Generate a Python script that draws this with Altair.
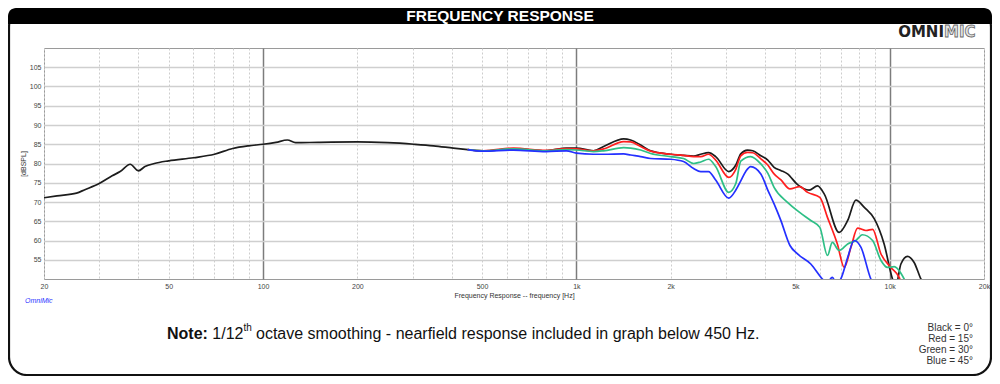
import altair as alt
import pandas as pd

# ---------------- data ----------------
black_f = [20, 22, 25.4, 27, 30, 33, 35, 37.7, 40, 42, 45, 50, 60, 70, 80, 90, 100, 110,
           119.6, 127, 150, 200, 250, 303, 350, 405, 450, 505, 630, 800, 930, 1000, 1135,
           1222, 1416, 1490, 1604, 1726, 2000, 2198, 2368, 2494, 2642, 2784, 3064, 3228,
           3348, 3516, 3656, 3880, 4083, 4276, 4490, 4720, 5082, 5534, 5886, 6180, 6900,
           7345, 7800, 8300, 8935, 9600, 10210, 10450, 10860, 11400, 11970, 12580, 13000]
black_db = [71.1, 71.6, 72.3, 73.2, 74.8, 76.8, 77.9, 79.8, 78.1, 79.2, 80.0, 80.7, 81.5,
            82.4, 83.9, 84.6, 85.0, 85.5, 86.1, 85.4, 85.5, 85.6, 85.4, 85.0, 84.6, 84.0,
            83.6, 83.2, 83.8, 83.3, 84.0, 84.0, 83.3, 84.4, 86.4, 86.1, 84.8, 83.3, 82.4,
            82.1, 81.9, 82.4, 82.8, 81.8, 77.9, 79.6, 82.5, 83.5, 83.3, 82.0, 80.9, 79.0,
            78.2, 77.3, 74.5, 73.1, 74.2, 72.1, 62.1, 65.2, 70.5, 68.6, 65.6, 59.1, 50.0,
            48.0, 53.9, 55.9, 54.3, 50.0, 48.0]

red_f = [450, 505, 630, 800, 930, 1000, 1135, 1222, 1416, 1490, 1604, 1726, 2000, 2198,
         2368, 2494, 2642, 2784, 3064, 3228, 3348, 3516, 3656, 3880, 4083, 4276, 4490, 4806,
         5160, 5472, 5985, 6330, 6808, 7160, 7520, 7900, 8400, 8820, 9380, 10090, 10720, 11000]
red_db = [83.6, 83.3, 84.0, 83.4, 83.9, 83.8, 83.3, 83.8, 85.7, 85.6, 84.4, 83.2, 82.4,
          82.1, 81.8, 81.8, 82.4, 80.9, 76.4, 78.5, 82.0, 82.9, 82.8, 81.2, 79.6, 77.3,
          75.8, 73.4, 74.0, 72.5, 71.2, 66.0, 59.1, 53.0, 58.2, 63.2, 62.6, 62.9, 56.5,
          53.0, 50.4, 48.0]

green_f = [450, 505, 630, 800, 930, 1000, 1135, 1222, 1416, 1490, 1604, 1726, 2000, 2198,
           2368, 2494, 2642, 2784, 3064, 3228, 3348, 3600, 3880, 4083, 4276, 4720, 5160,
           5600, 5985, 6330, 6560, 6900, 7345, 7800, 8180, 8820, 9380, 9840, 10340, 10860,
           11120, 11400]
green_db = [83.6, 83.3, 83.8, 83.3, 83.6, 83.5, 83.1, 83.3, 84.1, 84.0, 83.5, 82.6, 81.8,
            81.3, 80.0, 80.4, 81.1, 79.2, 72.5, 74.8, 80.6, 81.8, 79.9, 77.5, 73.8, 69.9,
            67.3, 65.2, 63.4, 56.1, 59.5, 57.4, 59.1, 60.0, 61.5, 60.0, 54.8, 53.0, 53.2,
            51.5, 50.0, 48.0]

blue_f = [450, 505, 630, 800, 930, 1000, 1135, 1222, 1416, 1490, 1604, 1726, 2000, 2198,
          2368, 2494, 2642, 2784, 3064, 3228, 3348, 3476, 3600, 3880, 4083, 4276, 4490, 4806,
          5082, 5600, 6100, 6300, 6560, 6750, 6980, 7345, 7700, 8100, 8710, 9000]
blue_db = [83.6, 83.2, 83.5, 83.1, 83.3, 82.7, 82.4, 82.4, 82.5, 82.2, 81.8, 81.3, 81.1,
           80.5, 78.7, 77.9, 77.9, 75.7, 71.0, 73.1, 75.5, 78.0, 79.2, 77.3, 73.1, 69.5,
           65.3, 58.7, 56.5, 53.9, 50.0, 49.0, 50.4, 49.0, 50.0, 55.6, 60.0, 58.2, 50.0, 48.0]

series_names = ["Black", "Red", "Green", "Blue"]
series_colors = ["#1c1c1c", "#ff1f1f", "#2ebf86", "#2430ff"]

x_tick_values = [20, 30, 40, 50, 60, 70, 80, 90, 100, 200, 300, 400, 500, 600, 700, 800,
                 900, 1000, 2000, 3000, 4000, 5000, 6000, 7000, 8000, 9000, 10000, 20000]
x_labelled = [20, 50, 100, 200, 500, 1000, 2000, 5000, 10000, 20000]
y_tick_values = [55, 60, 65, 70, 75, 80, 85, 90, 95, 100, 105]

legend_lines = ["Black = 0°", "Red = 15°", "Green = 30°", "Blue = 45°"]

frames = []
for name, f, d in [("Black", black_f, black_db), ("Red", red_f, red_db),
                   ("Green", green_f, green_db), ("Blue", blue_f, blue_db)]:
    frames.append(pd.DataFrame({"freq": f, "spl": d, "series": name}))

FONT = "Liberation Sans"
major_test = "datum.value == 100 || datum.value == 1000 || datum.value == 10000"
label_expr = ("indexof(" + str(x_labelled) + ", datum.value) >= 0 ? "
              "(datum.value >= 1000 ? (datum.value / 1000) + 'k' : '' + datum.value) : ''")

x_enc = alt.X(
    "freq:Q",
    scale=alt.Scale(type="log", domain=[20, 20000], nice=False),
    axis=alt.Axis(
        values=x_tick_values, labelExpr=label_expr, ticks=False, domain=False,
        labelFlush=False, labelOverlap=False, labelFontSize=7, labelColor="#444",
        labelFont=FONT, labelPadding=3,
        title="Frequency Response -- frequency [Hz]", titleFontSize=7,
        titleFontWeight="normal", titleColor="#333", titleFont=FONT, titlePadding=2,
        gridColor={"condition": {"test": major_test, "value": "#7c7c7c"}, "value": "#cdcdcd"},
        gridDash={"condition": {"test": major_test, "value": []}, "value": [2, 2]},
        gridWidth={"condition": {"test": major_test, "value": 1.5}, "value": 1},
    ),
)
y_enc = alt.Y(
    "spl:Q",
    scale=alt.Scale(domain=[50, 110], nice=False, zero=False),
    axis=alt.Axis(
        values=y_tick_values, ticks=False, domain=False, labelFontSize=7,
        labelColor="#444", labelFont=FONT, labelPadding=3,
        title="[dBSPL]", titleFontSize=7, titleFontWeight="normal", titleColor="#333",
        titleFont=FONT, titlePadding=3, gridColor="#cfcfcf", gridWidth=1.5,
    ),
)
color_enc = alt.Color("series:N", scale=alt.Scale(domain=series_names, range=series_colors),
                      legend=None)

dummy = alt.Data(values=[{"k": 1}])


def text_at(txt, x, y, **kw):
    return alt.Chart(dummy).mark_text(**kw).encode(
        x=alt.value(x), y=alt.value(y), text=alt.value(txt))


# frame and title bar
frame = alt.Chart(dummy).mark_rect(
    fillOpacity=0, stroke="#111", strokeWidth=2.2, cornerRadius=18
).encode(x=alt.value(-35), x2=alt.value(947), y=alt.value(-39), y2=alt.value(327))
title_bar = alt.Chart(dummy).mark_rect(
    color="#000", cornerRadiusTopLeft=18, cornerRadiusTopRight=18
).encode(x=alt.value(-36), x2=alt.value(948), y=alt.value(-40), y2=alt.value(-24))

layers = [frame, title_bar]
for df in frames:
    layers.append(
        alt.Chart(df).mark_line(strokeWidth=1.7, clip=True, interpolate="monotone")
        .encode(x=x_enc, y=y_enc, color=color_enc)
    )

layers += [
    text_at("FREQUENCY RESPONSE", 456, -32, font=FONT, fontSize=15.5, fontWeight="bold",
            color="white", align="center", baseline="middle"),
    text_at("OMNI", 900, -11, font="DejaVu Sans", fontSize=15, fontWeight="bold",
            color="#222", align="right", baseline="alphabetic"),
    text_at("MIC", 900, -11, font="DejaVu Sans", fontSize=15, fontWeight="bold",
            color="#e4e4e4", stroke="#6a6a6a", strokeWidth=0.8, align="left",
            baseline="alphabetic"),
    text_at("OmniMic", -19, 253, font=FONT, fontSize=7, fontStyle="italic",
            color="#2a35ff", align="left", baseline="middle"),
    text_at("Note:", 123, 291, font=FONT, fontSize=16, fontWeight="bold",
            color="#111", align="left", baseline="alphabetic"),
    text_at("1/12", 168.3, 291, font=FONT, fontSize=16, color="#111", align="left",
            baseline="alphabetic"),
    text_at("th", 199.4, 283, font=FONT, fontSize=10, color="#111", align="left",
            baseline="alphabetic"),
    text_at("octave smoothing - nearfield response included in graph below 450 Hz.",
            212, 291, font=FONT, fontSize=16, color="#111", align="left",
            baseline="alphabetic"),
]
for i, line in enumerate(legend_lines):
    layers.append(text_at(line, 929, 283 + 11 * i, font=FONT, fontSize=10, color="#333",
                          align="right", baseline="alphabetic"))

chart = alt.layer(*layers).properties(
    width=940, height=231,
    autosize=alt.AutoSizeParams(type="none"),
    padding={"left": 36, "top": 40, "right": 8, "bottom": 97},
).configure(background="white").configure_view(stroke="#9a9a9a", strokeWidth=1)

chart.save("out.html", embed_options={"renderer": "svg", "actions": False})
